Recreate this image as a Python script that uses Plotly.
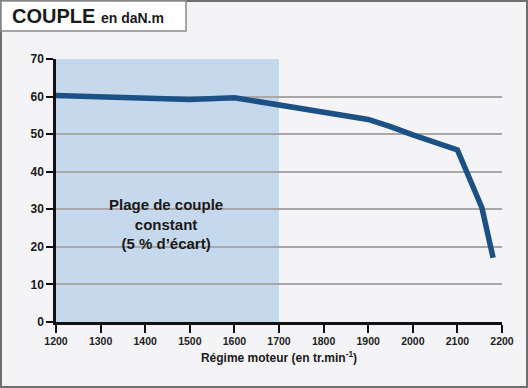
import plotly.graph_objects as go

# Data
rpm = [1200, 1300, 1400, 1500, 1600, 1700, 1800, 1900, 1950, 2000, 2100, 2155, 2180]
torque = [60.3, 60.0, 59.4, 59.2, 59.7, 57.8, 56.0, 53.9, 52.0, 49.8, 45.8, 30.4, 17.1]
band_rpm = [1200, 1700]
band_torque = [0, 70]
x_ticks = [1200, 1300, 1400, 1500, 1600, 1700, 1800, 1900, 2000, 2100, 2200]
y_ticks = [0, 10, 20, 30, 40, 50, 60, 70]
band_label = "Plage de couple<br>constant<br>(5 % d’écart)"
band_label_pos = [1447, 26.2]

W, H = 528, 388
ML, MR, MT, MB = 56, 26, 59, 66
PW, PH = W - ML - MR, H - MT - MB


def px(x):
    return (x - ML) / PW


def py(y):
    return (H - MB - y) / PH


BG = "#f4f3f6"
FONT = "Liberation Sans, Arial, sans-serif"

fig = go.Figure()
fig.add_trace(go.Scatter(
    x=rpm, y=torque, mode="lines",
    line=dict(color="#1c5185", width=5.5),
    hoverinfo="skip", showlegend=False,
))

shapes = [
    dict(type="rect", xref="x", yref="y", x0=band_rpm[0], x1=band_rpm[1],
         y0=band_torque[0], y1=band_torque[1], fillcolor="#c6d8ec",
         line=dict(width=0), layer="below"),
    # outer frame
    dict(type="rect", xref="paper", yref="paper", x0=px(1), x1=px(W - 1),
         y0=py(H - 1), y1=py(1), line=dict(color="#6f6f6f", width=2),
         fillcolor="rgba(0,0,0,0)", layer="above"),
    # title box
    dict(type="rect", xref="paper", yref="paper", x0=px(1), x1=px(186),
         y0=py(31), y1=py(1), line=dict(color="#8a8a8a", width=1.5),
         fillcolor="#ffffff", layer="above"),
]

annotations = [
    dict(x=band_label_pos[0], y=band_label_pos[1], xref="x", yref="y",
         text="<b>" + band_label + "</b>", showarrow=False,
         font=dict(family=FONT, size=15, color="#1a1a1a"), align="center"),
    dict(x=px(10), y=py(16), xref="paper", yref="paper", xanchor="left", yanchor="middle",
         text="<b>COUPLE</b> <b><span style='font-size:14px'>en daN.m</span></b>",
         showarrow=False, font=dict(family=FONT, size=20, color="#1a1a1a")),
]

fig.update_layout(
    width=W, height=H,
    margin=dict(l=ML, r=MR, t=MT, b=MB, pad=0),
    paper_bgcolor=BG, plot_bgcolor=BG,
    shapes=shapes, annotations=annotations,
    xaxis=dict(
        range=[1200, 2200], tickmode="array", tickvals=x_ticks,
        ticktext=["<b>%d</b>" % v for v in x_ticks],
        showgrid=False, zeroline=False,
        showline=True, linecolor="#111111", linewidth=2.5,
        ticks="outside", ticklen=8, tickwidth=2, tickcolor="#111111",
        tickfont=dict(family=FONT, size=10.5, color="#222222"),
        title=dict(text="<b>Régime moteur (en tr.min<sup>-1</sup>)</b>",
                   font=dict(family=FONT, size=12, color="#1a1a1a"), standoff=8),
    ),
    yaxis=dict(
        range=[0, 70], tickmode="array", tickvals=y_ticks,
        ticktext=["<b>%d</b>" % v for v in y_ticks],
        showgrid=True, gridcolor="#a8a8a8", gridwidth=1.5, zeroline=False,
        showline=True, linecolor="#111111", linewidth=2.5,
        ticks="outside", ticklen=7, tickwidth=2, tickcolor="#111111",
        tickfont=dict(family=FONT, size=12, color="#1a1a1a"),
    ),
)

fig.write_html(
    "out.html",
    config={"displayModeBar": False},
    post_script="document.body.style.margin='0';document.body.style.background='%s';" % BG,
)
